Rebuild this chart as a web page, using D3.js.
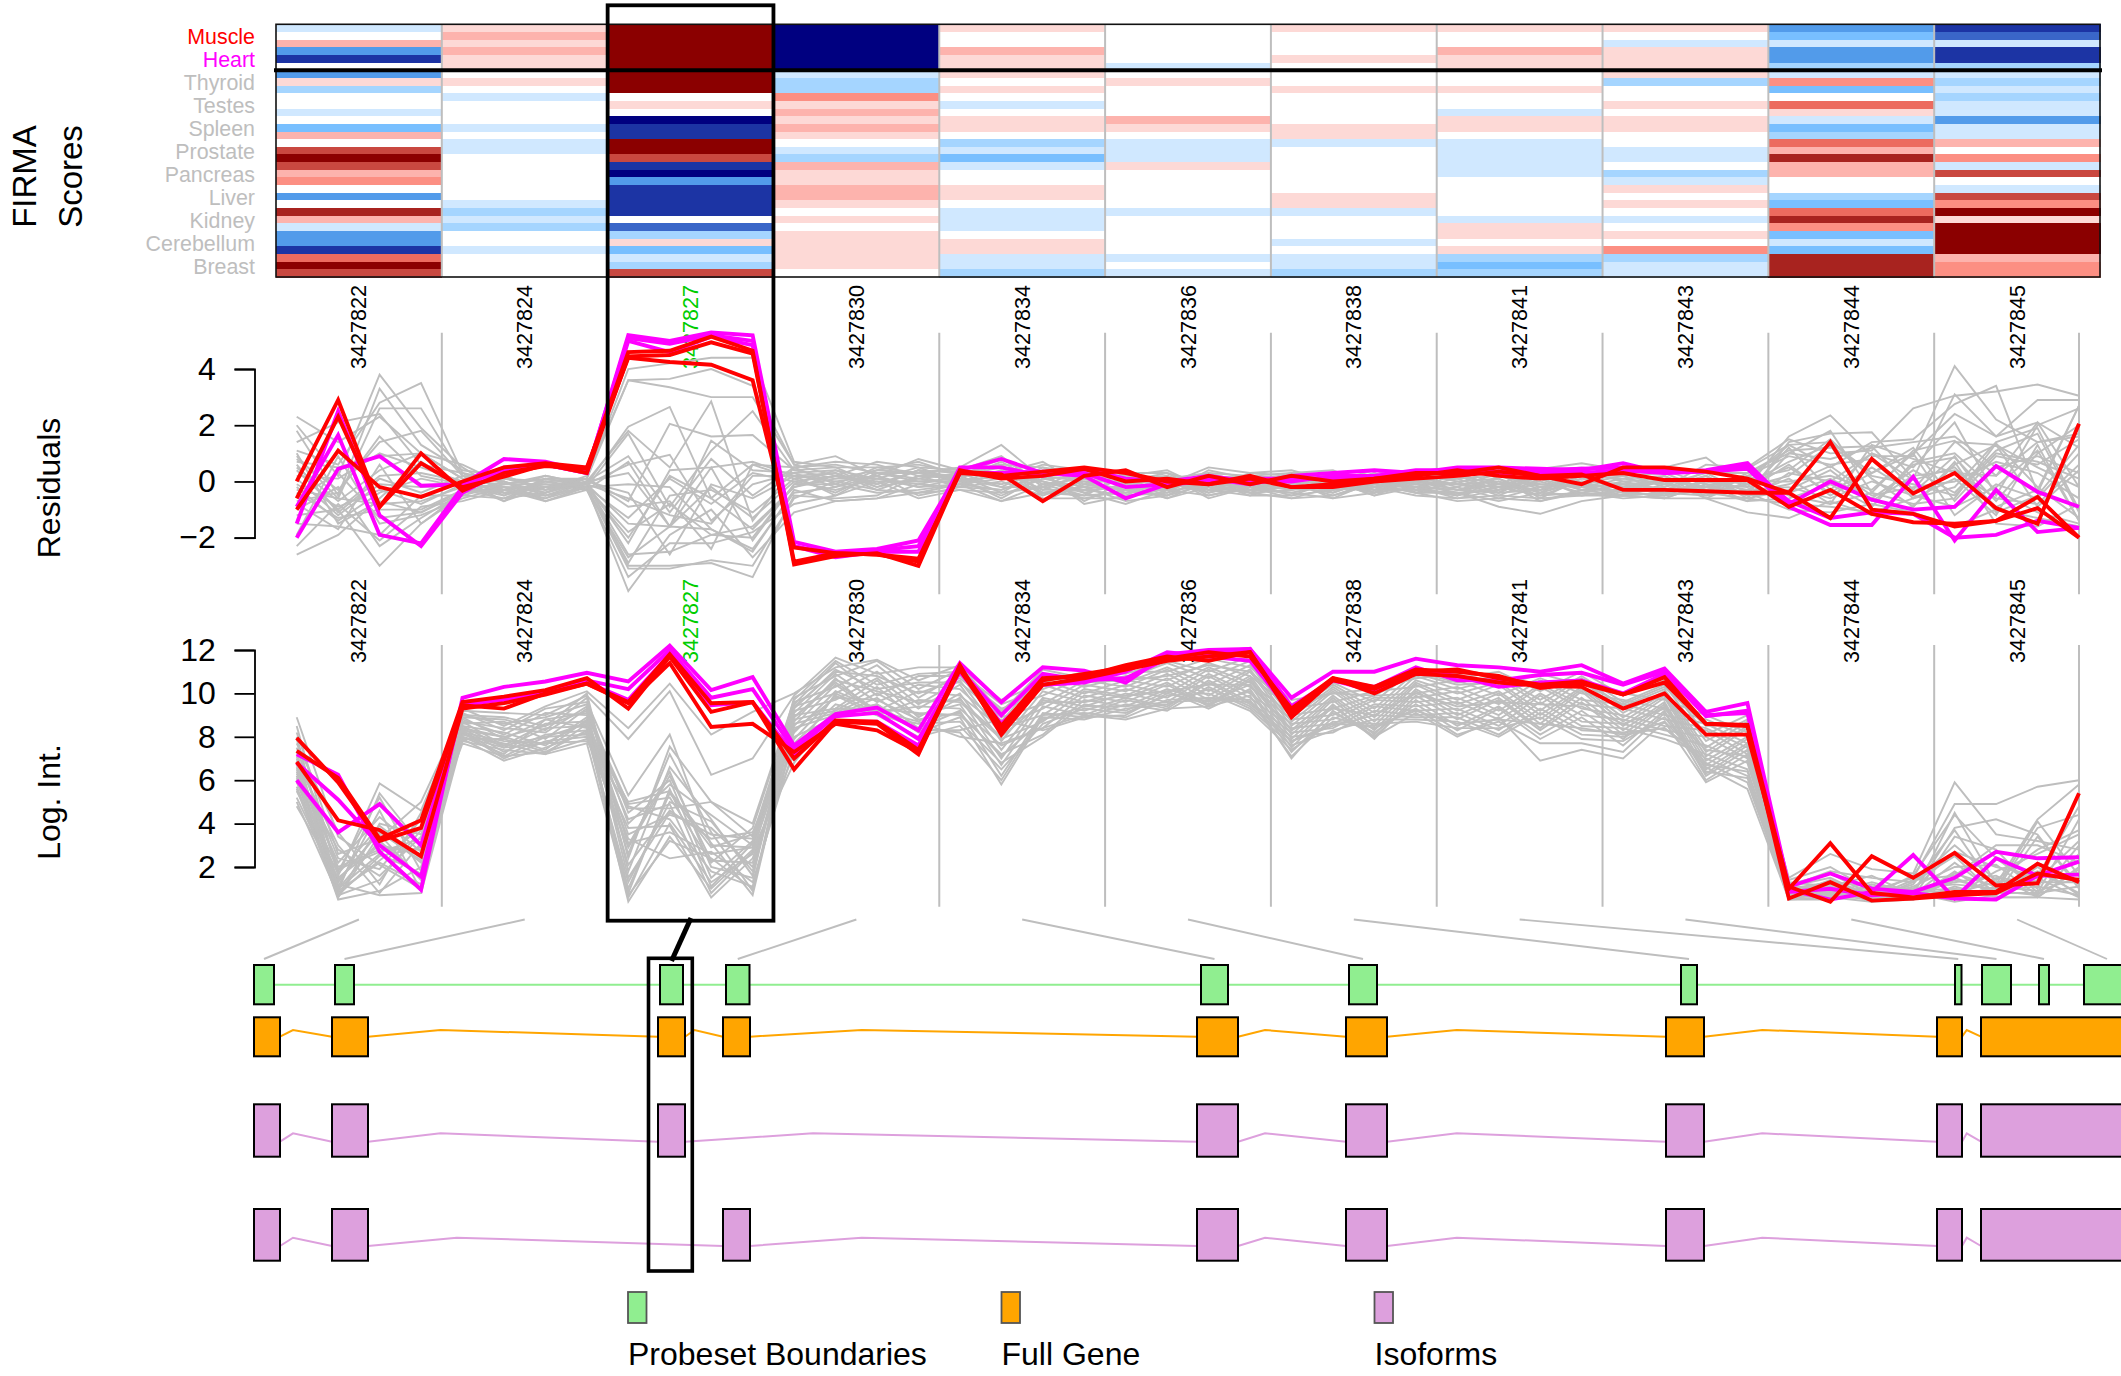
<!DOCTYPE html>
<html><head><meta charset="utf-8">
<style>html,body{margin:0;padding:0;background:#fff}svg{display:block}text{font-family:"Liberation Sans",Arial,sans-serif}</style>
<script src="https://cdn.jsdelivr.net/npm/d3@7/dist/d3.min.js"></script>
</head><body><svg id="c" width="2121" height="1376"></svg>
<script>
const probesets=["3427822","3427824","3427827","3427830","3427834","3427836","3427838","3427841","3427843","3427844","3427845"];
const tissues=["Muscle","Heart","Thyroid","Testes","Spleen","Prostate","Pancreas","Liver","Kidney","Cerebellum","Breast"];
const heatLevels=[-7,-6,-5,-4,-3,-2,-1,0,1,2,3,4,5,6,7];
const heatColors=["#000080","#1c34a4","#3a66c8","#529bea","#78bfff","#a5d5ff","#d0e8ff","#ffffff","#fdd9d6","#fdb3ad","#fc8f83","#ec6b5f","#c94840","#a8231f","#8b0000"];
// FIRMA score bins: one list per probeset, top row to bottom row
const h22=[-1,0,2,-4,-6,0,-4,1,-2,0,0,-1,0,-3,2,0,5,7,5,2,3,0,-4,0,6,2,-1,-4,-4,-6,4,7,5];
const h24=[1,2,1,2,1,1,0,1,0,-1,0,0,0,-1,0,-1,-1,0,0,0,0,0,0,-1,-2,-1,-2,0,0,-1,0,0,0];
const h27=[7,7,7,7,7,7,7,7,7,0,1,0,-7,-6,-6,7,7,5,-6,-7,-4,-6,-6,-6,-6,0,-5,-2,1,-3,-1,-2,5];
const h30=[-7,-7,-7,-7,-7,-7,-1,-2,-2,3,1,2,1,2,1,0,-1,-2,2,1,1,2,2,1,0,1,0,1,1,1,1,1,0];
const h34=[1,0,0,2,1,1,1,0,1,0,-1,0,1,1,0,-2,-1,-3,-1,0,0,1,1,0,-1,-1,-1,0,1,1,-1,-1,-2];
const h36=[0,0,0,0,0,-1,0,1,0,0,0,0,2,1,0,-1,-1,-1,1,0,0,0,0,0,-1,0,0,0,0,0,-1,0,-1];
const h38=[1,0,0,0,1,0,0,0,1,0,0,0,0,1,1,-1,0,0,0,0,0,0,1,1,-1,0,0,0,-1,0,-1,-1,-2];
const h41=[1,0,0,2,1,1,0,0,1,0,0,-1,1,1,0,-1,-1,-1,-1,-1,0,0,0,0,0,-1,1,1,0,1,-2,-3,-2];
const h43=[1,0,-1,1,1,1,1,-2,0,0,1,0,1,1,0,0,-1,-1,0,-2,-1,1,0,1,0,-1,0,1,0,3,-2,-1,-1];
const h44=[-4,-3,-1,-4,-4,-2,-1,3,-3,0,4,1,-1,-3,-2,4,2,6,2,2,0,0,-2,-3,4,6,3,-3,-1,-3,6,6,6];
const h45=[-6,-5,-1,-6,-6,-2,-1,-2,-1,-2,-1,-1,-4,-1,-1,2,0,3,-1,5,0,-1,5,3,7,1,7,7,7,7,2,3,3];
const heatColumns=[h22,h24,h27,h30,h34,h36,h38,h41,h43,h44,h45];

// Residuals: highlighted samples (44 probes)
const residMuscle1=[0,2.9,-0.9,1.0, -0.33,0.3,0.55,0.45, 4.6,4.65,5.15,4.65, -2.95,-2.65,-2.55,-3.0, 0.35,0.25,-0.7,0.2, 0.4,-0.2,0.2,-0.1, 0.2,0.0,0.1,0.3, 0.3,0.5,0.2,-0.1, 0.5,0.5,0.35,0.1, -0.4,1.4,-1.0,-1.15, -1.6,-1.4,-0.55,-2.0];
const residMuscle2=[-0.6,2.3,-0.9,0.65, -0.2,0.17,0.6,0.3, 4.45,4.5,4.95,4.55, -2.85,-2.55,-2.6,-2.75, 0.3,0.2,0.35,0.5, 0.3,0,-0.1,0.1, -0.2,-0.1,0.1,0.2, 0.4,0.2,0.1,0.2, 0.3,0.05,0.05,0.05, -0.9,-0.3,-1.15,-1.45, -1.5,-1.4,-0.95,-2.0];
const residMuscle3=[-1.0,1.1,-0.2,-0.55, 0,0.5,0.65,0.5, 4.4,4.25,4.15,3.6, -2.35,-2.55,-2.6,-2.85, 0.4,0.1,0.2,0.45, 0,0.1,-0.1,0.2, -0.2,-0.2,0,0.1, 0.2,0.35,0.2,0.25, -0.3,-0.3,-0.35,-0.4, -0.4,-1.3,0.8,-0.43, 0.3,-0.95,-1.5,2.05];
const residHeart1=[-1.5,2.5,-1.2,-2.3, -0.4,0.4,0.6,0.3, 5.2,5.0,5.3,5.2, -2.15,-2.5,-2.4,-2.1, 0.4,0.8,0.3,0.2, -0.6,-0.1,0.1,-0.1, 0.2,0.3,0.4,0.3, 0.5,0.5,0.45,0.4, 0.65,0.3,0.4,0.65, -0.8,0,-0.65,-1.0, -0.9,0.55,-0.37,-0.9];
const residHeart2=[-2.0,0.45,0.9,-0.15, -0.1,0.8,0.7,0.35, 5.1,4.9,5.2,5.0, -2.3,-2.6,-2.45,-2.3, 0.5,0.5,0.2,0.45, 0.1,0,0.2,0, 0,0.2,0.2,0.4, 0.4,0.35,0.4,0.45, 0.5,0.4,0.35,0.45, -0.9,-1.55,-1.55,0.17, -2.1,-0.3,-1.8,-1.65];
const residHeart3=[-0.9,1.65,-1.9,-2.2, -0.2,0.5,0.6,0.3, 5.0,4.6,5.15,4.85, -2.3,-2.7,-2.5,-2.5, 0.3,0.3,0.35,0.3, -0.2,-0.1,0,0.1, 0.1,0.1,0.2,0.3, 0.3,0.3,0.3,0.3, 0.4,0.3,0.35,0.55, -0.7,-1.3,-1.1,-1.15, -2.0,-1.9,-1.4,-1.65];
// Log intensity: highlighted samples
const intMuscle1=[7.95,5.9,3.2,3.8, 9.45,9.3,10.0,10.45, 9.6,11.8,9.55,9.6, 6.5,8.7,8.6,7.2, 11.3,8.1,10.4,10.7, 11.1,11.5,11.7,11.9, 8.9,10.6,10.2,11.0, 11.1,10.7,10.4,10.55, 9.95,10.75,8.6,8.55, 1.0,3.1,0.8,0.6, 0.85,0.85,2.15,1.3];
const intMuscle2=[7.35,6.1,3.3,4.15, 9.6,9.85,10.15,10.7, 9.3,11.7,9.15,9.6, 7.0,8.75,8.7,7.4, 11.2,8.5,10.7,10.8, 11.3,11.7,11.5,11.9, 9.1,10.7,10.3,11.1, 11,10.8,10.25,10.45, 9.95,10.5,8.6,8.5, 0.55,1.3,0.45,0.55, 0.7,0.8,1.7,1.4];
const intMuscle3=[6.85,4.15,3.7,2.5, 9.3,9.55,9.95,10.45, 9.55,11.4,8.45,8.6, 7.3,8.6,8.3,7.3, 11.1,8.3,10.6,10.9, 11.2,11.6,11.9,11.7, 9.3,10.7,10.0,10.9, 10.8,10.5,10.35,10.3, 9.3,10.0,8.1,8.1, 1.1,0.4,2.5,1.5, 2.65,1.15,1.25,5.4];
const intHeart1=[7.2,6.25,2.7,0.95, 9.8,10.3,10.55,10.95, 10.55,12.2,10.15,10.75, 7.6,9.05,9.35,8.3, 11.4,9.6,11.2,11.05, 10.5,11.8,12.0,12.05, 9.8,11.0,11.0,11.6, 11.3,11.2,11.0,11.3, 10.45,11.15,9.15,9.55, 1.1,1.7,1.0,0.85, 1.5,2.7,2.4,2.45];
const intHeart2=[6.0,3.6,4.9,3.0, 9.4,9.8,10.1,10.6, 10.2,12.0,9.8,10.2, 7.4,8.95,9.1,7.9, 11.1,9.0,10.9,10.6, 10.7,11.6,11.85,12.05, 9.4,10.6,10.3,11.2, 10.6,10.6,10.85,10.95, 10.4,11.0,8.95,9.2, 0.95,0.5,0.85,2.55, 0.55,2.4,1.6,2.25];
const intHeart3=[6.8,5.1,3.0,1.55, 9.5,9.7,10.0,10.5, 9.7,11.8,9.45,9.6, 7.2,8.7,8.7,7.6, 11.0,8.6,10.4,10.5, 11.0,11.9,11.7,11.5, 9.1,10.6,10.1,11.1, 10.8,10.3,10.5,10.6, 10,10.9,9,9.1, 0.85,1.0,0.7,0.8, 0.55,0.5,1.6,1.65];

// Residuals: other samples, one list per probeset
const r22=[[2.3,1.4,2.3,1.0],[2.0,0.2,3.8,1.9],[1.8,-0.5,3.3,1.3],[1.4,2.1,2.4,0.6],[1.1,0.6,2.8,3.5],[0.9,-0.6,2.6,2.6],[0.8,-0.3,1.4,1.8],[0.7,0.5,0.9,1.0],[0.5,-0.7,0.4,1.0],[0.4,-1.0,0.2,0.3],[0.2,0.1,1.0,0.5],[0.1,-1.2,-0.1,-0.2],[-0.1,-0.9,-0.3,-0.8],[-0.2,-1.4,-0.4,0.1],[-0.3,-0.6,-0.8,-0.7],[-0.4,-1.3,-1.0,-1.0],[-0.6,0.3,-1.3,-1.1],[-0.8,-1.7,0.6,-1.5],[-1.0,-0.2,-2.3,-1.3],[-1.2,-1.0,-3.0,-1.5],[-1.5,-1.6,-1.9,-0.5],[-1.9,0.9,-1.5,-1.2],[-2.3,-0.8,-2.1,-0.9],[-2.6,-1.9,-0.6,0.7],[0.6,-1.1,0.1,-0.4],[-0.7,-0.4,1.6,0.2],[1.0,-1.5,-0.7,-1.1]];
const r24=[[0.6,-0.1,0.1,0.1],[0.5,-0.4,-0.2,0.1],[0.4,0.2,-0.3,0.2],[0.3,-0.3,0.2,-0.1],[0.3,0.0,-0.5,0.0],[0.2,-0.5,0.0,0.1],[0.2,0.1,-0.2,-0.2],[0.1,-0.7,0.1,-0.1],[0.1,0.0,-0.4,0.0],[0.0,-0.1,0.2,-0.1],[0.0,-0.4,-0.6,0.0],[-0.1,0.1,0.0,-0.2],[-0.1,-0.2,-0.4,0.1],[-0.2,-0.5,0.1,-0.2],[-0.2,0.2,-0.3,-0.1],[-0.3,-0.3,-0.7,-0.2],[-0.3,-0.6,0.0,-0.3],[-0.4,-0.2,-0.2,-0.1],[-0.4,0.0,-0.7,-0.3],[-0.5,-0.1,-0.1,-0.2],[-0.5,-0.6,-0.4,0.0],[-0.6,-0.2,-0.6,-0.2],[-0.7,-0.3,-0.1,-0.3],[-0.2,-0.4,-0.5,-0.2],[0.2,-0.2,-0.3,0.0],[-0.1,-0.7,-0.2,-0.1],[-0.4,-0.3,-0.5,-0.2]];
const r27=[[4.0,4.2,4.4,4.4],[3.6,3.65,4.0,3.4],[3.6,3.35,3.0,3.0],[1.95,2.65,-0.6,0.6],[1.8,0.5,2.85,-1.4],[-0.7,2.05,1.6,1.65],[1.7,-0.9,1.1,2.5],[0.6,0.95,-1.4,-0.1],[0.3,-1.6,1.45,0.4],[-2.2,0.4,0.5,0.7],[-0.4,-2.6,-0.1,-0.6],[-2.9,-0.5,-0.3,-1.1],[-0.9,-0.7,-2.4,0.6],[-1.3,0.1,-0.8,0.3],[-1.5,-1.6,-0.2,-1.3],[-1.8,-0.8,-1.9,-2.0],[0.7,-1.6,0.5,-2.1],[-2.6,-2.5,-1.9,-1.6],[-2.7,-1.6,-1.7,-2.5],[-0.1,-0.2,-1.7,-2.4],[-3.0,-3.0,-2.9,-3.4],[-3.1,-3.1,-2.8,-3.0],[-3.4,-2.2,-2.2,-1.8],[-3.9,-1.9,-1.0,-2.7],[0.9,-1.1,0.8,-0.5],[-0.6,-1.2,-1.5,0.2],[-2.0,0.2,-0.6,-1.7]];
const r30=[[0.7,0.5,0.5,0.3],[0.6,0.9,0.2,0.8],[0.6,0.2,0.7,0.5],[0.5,0.6,0.3,0.1],[0.5,-0.1,0.5,0.6],[0.4,0.5,-0.1,0.4],[0.4,0.1,0.4,0.7],[0.3,0.4,0.1,-0.1],[0.3,-0.2,0.4,0.3],[0.2,0.3,-0.2,0.4],[0.2,0.0,0.2,-0.2],[0.1,0.3,-0.3,0.2],[0.1,-0.4,0.3,0.3],[0.0,0.2,0.0,0.0],[0.0,-0.3,0.1,0.5],[-0.1,0.4,-0.2,0.1],[-0.1,-0.1,-0.4,-0.3],[-0.2,0.1,0.1,-0.2],[-0.3,-0.7,-0.6,-0.1],[-0.4,-0.2,0.2,-0.5],[-0.5,-0.6,-0.5,0.2],[-0.6,0.0,-0.3,-0.4],[-0.8,-0.5,0.0,-0.6],[-1.1,-0.7,-0.6,-0.4],[0.5,0.7,0.6,0.2],[0.2,-0.5,0.3,0.0],[-0.2,0.2,-0.1,0.4]];
const r34=[[0.5,1.3,0.1,0.2],[0.4,0.3,0.7,-0.2],[0.4,0.9,-0.2,0.5],[0.3,-0.2,0.5,0.3],[0.3,0.6,-0.4,-0.5],[0.3,0.1,0.6,0.4],[0.2,0.8,0.0,-0.3],[0.2,-0.4,0.4,0.2],[0.2,0.5,-0.5,0.0],[0.1,-0.1,0.3,-0.7],[0.1,0.7,-0.1,0.1],[0.1,-0.6,0.2,-0.4],[0.0,0.4,-0.3,0.3],[0.0,-0.5,0.1,-0.2],[0.0,0.2,-0.6,-0.6],[-0.1,-0.3,0.2,0.0],[-0.1,0.3,-0.7,-0.1],[-0.1,-0.7,-0.1,-0.5],[-0.2,0.0,-0.5,0.1],[-0.2,-0.3,0.3,-0.8],[-0.2,0.4,-0.3,-0.3],[-0.3,-0.4,-0.2,-0.6],[-0.3,-0.7,-0.4,-0.2],[-0.1,0.1,0.0,-0.4],[0.2,0.6,0.5,-0.1],[0.1,-0.2,-0.2,0.2],[0.0,0.2,-0.4,-0.3]];
const r36=[[0.4,-0.1,0.5,0.3],[0.3,0.3,-0.1,-0.2],[0.3,-0.3,0.3,0.2],[0.2,0.4,-0.3,0.3],[0.2,0.0,0.2,-0.3],[0.1,-0.4,0.4,0.1],[0.1,0.2,-0.2,-0.4],[0.1,-0.2,0.1,0.2],[0.0,0.3,-0.4,-0.1],[0.0,-0.5,0.2,0.1],[-0.1,0.1,-0.3,-0.5],[-0.1,-0.3,0.1,0.0],[-0.2,0.2,-0.5,-0.2],[-0.2,-0.6,0.0,0.1],[-0.3,0.1,-0.3,-0.3],[-0.3,-0.2,-0.1,-0.1],[-0.3,-0.5,0.2,-0.4],[-0.4,0.0,-0.4,0.0],[-0.4,-0.3,-0.2,-0.3],[-0.5,0.2,-0.6,-0.2],[-0.5,-0.4,0.0,-0.5],[-0.6,-0.1,-0.3,-0.1],[-0.7,-0.5,-0.1,-0.4],[-0.8,-0.3,-0.5,-0.2],[0.2,0.1,0.3,-0.1],[-0.1,-0.6,-0.2,0.2],[-0.2,-0.1,0.1,-0.3]];
const r38=[[0.4,0.0,0.4,-0.1],[0.3,0.4,-0.2,0.3],[0.3,-0.3,0.3,-0.3],[0.2,0.3,-0.1,0.4],[0.2,-0.2,0.2,0.0],[0.2,0.2,-0.4,0.2],[0.1,-0.4,0.1,-0.2],[0.1,0.1,-0.3,0.3],[0.0,-0.1,0.3,-0.4],[0.0,0.3,-0.2,0.1],[-0.1,-0.5,0.0,-0.1],[-0.1,0.1,-0.4,0.2],[-0.1,-0.3,0.2,-0.3],[-0.2,0.2,-0.3,0.0],[-0.2,-0.4,0.1,-0.2],[-0.3,0.0,-0.5,0.1],[-0.3,-0.2,-0.1,-0.4],[-0.3,0.1,-0.3,-0.1],[-0.4,-0.6,0.0,-0.3],[-0.4,-0.1,-0.4,0.1],[-0.5,-0.3,-0.2,-0.5],[-0.5,0.0,-0.5,-0.2],[-0.6,-0.5,-0.1,-0.4],[-0.6,-0.2,-0.3,-0.3],[0.3,0.1,0.1,0.2],[-0.2,-0.3,-0.2,0.0],[0.0,-0.6,-0.4,-0.2]];
const r41=[[0.4,-0.1,0.45,0.65],[0.3,0.4,-0.2,0.1],[0.3,-0.2,0.35,0.5],[0.2,0.3,-0.3,-0.1],[0.2,-0.3,0.2,0.3],[0.1,0.2,-0.1,-0.2],[0.1,-0.4,0.3,0.2],[0.0,0.1,-0.4,0.4],[0.0,-0.5,0.1,-0.3],[-0.1,0.0,-0.5,0.0],[-0.1,-0.2,0.0,-0.4],[-0.2,0.3,-0.6,0.1],[-0.2,-0.6,-0.2,-0.1],[-0.3,-0.1,0.1,-0.5],[-0.3,-0.4,-0.3,0.2],[-0.3,0.1,-0.7,-0.3],[-0.4,-0.3,-0.1,-0.2],[-0.4,-0.7,-0.4,0.0],[-0.5,-0.2,-0.5,-0.4],[-0.5,0.2,-0.2,-0.1],[-0.6,-0.5,-0.6,-0.5],[-0.6,-0.3,0.2,-0.3],[-0.7,-0.6,-0.7,-0.4],[-0.4,-0.9,-1.15,-0.7],[0.2,-0.1,-0.3,0.2],[-0.1,-0.4,0.2,-0.2],[-0.5,0.0,-0.4,-0.5]];
const r43=[[0.4,0.5,0.85,-0.2],[0.3,-0.2,0.6,0.5],[0.3,0.4,-0.1,-0.5],[0.2,-0.4,0.4,0.45],[0.2,0.3,-0.3,0.1],[0.1,-0.1,0.3,-0.4],[0.1,0.2,-0.4,0.3],[0.0,-0.3,0.2,-0.6],[0.0,0.1,-0.2,0.2],[-0.1,-0.5,0.1,-0.1],[-0.1,0.0,-0.5,-0.3],[-0.2,-0.4,0.0,0.1],[-0.2,0.1,-0.3,-0.7],[-0.3,-0.6,-0.1,-0.2],[-0.3,-0.2,0.2,-0.5],[-0.3,0.0,-0.6,0.0],[-0.4,-0.3,-0.2,-0.4],[-0.4,-0.5,0.0,-0.3],[-0.5,-0.1,-0.4,-0.6],[-0.5,-0.4,-0.5,0.2],[-0.5,-0.6,-0.1,-0.7],[-0.5,0.2,-0.6,-0.6],[-0.6,-0.5,-0.3,-0.4],[-0.5,-0.6,-0.6,-1.1],[0.2,0.3,0.3,0.3],[-0.1,-0.3,-0.4,-0.1],[-0.3,0.1,0.1,-0.5]];
const r44=[[1.6,2.35,0.9,0.9],[1.5,1.0,1.1,2.6],[1.4,1.7,1.75,0.1],[1.3,0.5,1.4,1.5],[1.3,1.4,0.3,1.0],[1.2,-0.3,1.0,0.5],[1.1,1.2,1.25,-0.3],[1.0,1.8,-0.4,1.1],[0.9,0.6,0.8,-0.6],[0.7,1.3,-0.9,0.6],[0.6,-0.5,0.3,1.2],[0.4,1.5,0.1,-0.9],[0.3,0.0,1.0,0.05],[0.2,1.3,0.2,-0.1],[0.1,-0.8,1.3,0.8],[0.0,0.2,-0.3,1.0],[-0.1,0.55,-0.5,-0.2],[-0.2,-0.6,0.0,-0.5],[-0.3,0.4,-0.7,0.2],[-0.5,-0.8,-0.4,-0.8],[-0.6,-0.1,-0.9,0.7],[-0.8,-0.9,-1.1,-0.6],[-1.0,-1.1,-0.8,-1.1],[-1.3,-0.7,-1.2,-0.9],[1.0,0.8,1.2,1.4],[0.5,-0.4,0.5,-0.4],[-0.4,0.1,-0.6,0.4]];
const r45=[[4.1,2.2,1.4,1.6],[3.05,3.2,3.45,3.05],[3.1,1.6,2.9,2.9],[2.75,3.4,-0.4,2.7],[2.4,1.6,2.1,1.2],[2.1,-0.5,2.0,2.6],[1.4,1.3,0.5,-0.2],[1.45,0.2,1.4,1.7],[-0.2,1.4,1.9,-1.0],[0.85,-0.7,1.0,2.0],[-0.7,0.9,0.6,1.5],[0.6,1.3,-0.9,0.4],[0.5,-0.9,-0.3,2.7],[-0.5,1.0,0.7,0.1],[0.3,0.2,2.1,-0.2],[-1.2,-0.1,-0.6,1.0],[0.0,0.7,0.3,-0.6],[-0.9,-0.2,1.1,-1.4],[0.4,-0.6,-0.8,0.6],[-0.6,1.35,-0.2,-1.3],[1.0,-0.3,-1.1,-1.5],[0.1,-1.2,1.3,-1.4],[-1.6,-1.0,-1.3,-1.6],[0.7,-1.5,-1.6,-0.8],[1.6,0.5,0.9,0.3],[0.9,-1.1,-0.5,1.3],[-0.4,1.1,1.7,-1.1]];
// Log intensity: other samples, one list per probeset
const i22=[[8.9,3.4,2.1,1.0],[8.5,1.6,5.85,4.6],[8.2,2.6,3.3,5.0],[8.0,0.9,5.4,3.0],[7.7,3.6,1.2,4.5],[7.5,1.8,5.2,1.8],[7.3,0.6,4.0,3.5],[7.1,2.4,1.9,4.2],[7.0,1.3,3.7,2.2],[6.9,3.0,0.8,3.1],[6.8,1.1,4.6,0.9],[6.7,2.0,2.8,2.8],[6.6,0.8,2.3,3.8],[6.5,2.2,4.3,2.7],[6.4,1.0,3.2,1.5],[6.2,0.7,1.4,3.7],[6.1,1.4,3.6,2.3],[6.0,0.5,0.9,2.0],[5.9,1.9,2.7,3.3],[5.7,0.9,2.2,1.2],[5.5,1.7,3.9,2.4],[5.2,1.2,0.7,0.8],[5.0,0.7,2.5,2.9],[4.8,1.5,3.0,2.6],[7.9,1.0,2.6,1.7],[6.3,2.8,1.6,3.4],[5.6,0.6,3.5,1.4]];
const i24=[[9.3,8.5,9.4,10.1],[9.2,9.1,9.0,9.9],[9.1,8.3,9.3,9.6],[9.0,8.9,8.5,10.0],[8.9,7.9,8.8,9.1],[8.9,8.8,8.3,9.8],[8.8,8.1,9.1,9.0],[8.7,8.4,8.2,9.4],[8.7,7.6,8.6,8.7],[8.6,8.7,7.9,9.3],[8.5,7.5,8.4,8.5],[8.5,8.2,7.6,8.9],[8.4,7.3,8.1,8.3],[8.3,8.0,7.4,8.8],[8.3,7.1,8.0,8.1],[8.2,7.8,7.7,8.7],[8.2,7.0,7.8,8.0],[8.1,7.7,7.2,8.6],[8.0,7.5,7.7,7.8],[8.0,7.2,8.8,8.4],[7.9,7.9,7.3,7.9],[7.9,6.9,7.5,8.2],[7.8,7.4,7.2,7.7],[7.7,7.1,7.3,8.3],[9.0,8.6,8.9,9.5],[8.4,8.0,8.5,9.2],[8.1,7.6,8.0,8.6]];
const i27=[[8.4,10.45,8.1,9.15],[7.9,10.1,6.25,7.0],[5.3,8.1,3.0,2.9],[2.4,7.55,5.0,4.0],[4.9,5.2,2.2,3.8],[1.8,6.6,4.2,1.6],[4.7,4.7,5.0,3.4],[4.5,6.0,1.5,3.2],[2.6,7.2,3.6,0.9],[4.0,5.8,4.4,3.0],[0.8,5.6,1.1,3.1],[3.5,4.4,3.8,2.0],[5.0,5.5,3.1,0.7],[3.1,3.6,2.6,2.9],[1.3,5.0,4.1,1.8],[4.2,4.9,0.8,2.7],[2.9,6.2,2.3,2.2],[2.1,4.6,3.3,3.6],[4.8,4.2,1.8,1.1],[1.0,5.4,2.9,3.5],[3.8,3.9,0.6,2.4],[3.3,2.4,2.7,1.3],[0.6,4.0,1.3,2.6],[0.4,3.4,1.0,2.8],[3.0,6.4,2.0,1.5],[1.5,4.5,3.5,3.3],[0.7,3.2,2.4,1.0]];
const i30=[[10.0,11.2,11.55,10.6],[9.9,11.65,10.9,11.2],[9.8,10.8,11.5,10.2],[9.7,11.5,10.4,10.9],[9.6,10.3,11.3,9.8],[9.5,11.4,9.9,10.8],[9.4,10.0,11.0,9.5],[9.3,11.1,10.2,10.5],[9.2,9.7,10.7,9.3],[9.1,10.9,9.6,10.4],[9.0,9.3,10.6,8.9],[8.9,10.5,9.2,10.1],[8.8,9.2,10.3,8.7],[8.7,10.7,9.0,9.7],[8.6,9.1,10.0,9.0],[8.5,10.4,9.1,9.4],[8.4,9.0,9.8,8.4],[8.2,10.1,9.3,9.1],[8.0,8.9,9.5,8.2],[7.9,9.9,9.0,8.6],[7.7,9.5,9.0,8.0],[7.5,9.1,9.5,8.3],[7.2,10.0,9.1,8.4],[6.8,9.3,9.2,8.7],[9.4,11.0,10.8,10.0],[8.9,10.6,10.1,9.6],[8.3,9.8,9.7,8.8]];
const i34=[[11.3,9.1,11.1,10.7],[11.2,9.7,10.5,11.0],[11.1,8.7,10.9,10.3],[11.0,9.5,10.2,10.9],[10.9,8.3,10.6,10.0],[10.8,9.3,9.9,10.8],[10.6,8.1,10.4,9.8],[10.5,8.9,9.5,10.6],[10.4,7.8,10.1,9.6],[10.2,8.5,9.3,10.4],[10.0,7.4,9.8,9.4],[9.9,8.4,9.0,10.2],[9.8,7.0,9.7,9.2],[9.6,7.9,8.7,10.1],[9.5,6.7,9.4,9.0],[9.3,7.6,8.4,9.9],[9.2,6.2,9.1,8.9],[9.0,7.2,8.1,9.7],[8.9,5.8,8.9,8.8],[8.7,6.8,8.0,9.5],[8.5,6.5,8.6,9.3],[8.3,8.8,8.3,8.9],[8.2,6.0,9.0,9.1],[8.0,7.7,8.4,9.0],[10.7,9.2,10.8,10.5],[9.7,8.0,9.6,9.6],[9.1,7.1,8.8,9.4]];
const i36=[[11.0,11.0,11.6,11.2],[10.9,11.5,11.0,11.7],[10.8,10.6,11.4,10.8],[10.7,11.4,10.7,11.5],[10.6,10.3,11.2,10.5],[10.5,11.2,10.4,11.3],[10.4,10.0,11.1,10.3],[10.3,11.1,10.1,11.1],[10.2,9.8,10.9,10.0],[10.1,10.9,9.9,11.0],[10.0,9.6,10.8,9.8],[9.9,10.7,9.7,10.8],[9.8,9.4,10.6,9.6],[9.8,10.5,9.5,10.7],[9.7,9.3,10.5,9.5],[9.6,10.4,9.4,10.6],[9.5,9.2,10.3,9.4],[9.4,10.2,9.6,10.4],[9.3,9.5,10.2,9.3],[9.2,10.1,9.3,10.2],[9.1,9.9,10.0,9.2],[9.0,10.0,9.5,10.1],[8.9,9.7,9.8,9.7],[8.8,9.3,9.4,9.9],[10.6,10.8,11.3,11.0],[9.9,10.1,10.4,10.4],[9.4,9.6,9.7,9.6]];
const i38=[[9.7,10.0,10.2,10.7],[9.5,10.5,9.6,11.2],[9.3,9.6,10.1,10.3],[9.2,10.4,9.3,11.0],[9.0,9.3,9.9,10.0],[8.9,10.3,9.1,10.8],[8.8,9.0,9.8,9.8],[8.7,10.2,8.9,10.6],[8.6,8.8,9.7,9.6],[8.5,10.1,8.7,10.5],[8.4,8.6,9.5,9.4],[8.3,9.9,8.5,10.4],[8.2,8.4,9.4,9.2],[8.1,9.8,8.3,10.2],[8.0,8.2,9.2,9.0],[7.9,9.7,8.1,10.1],[7.8,8.5,9.0,8.9],[7.7,9.5,7.9,9.9],[7.6,8.3,8.8,8.8],[7.5,9.4,8.0,9.7],[7.4,8.7,8.6,8.7],[7.3,9.1,8.2,9.5],[7.1,8.9,8.4,9.3],[7.0,9.2,8.0,9.1],[9.4,10.0,9.9,10.9],[8.3,9.3,9.0,10.0],[7.8,8.6,8.5,9.2]];
const i41=[[10.9,10.3,10.9,10.4],[10.7,11.0,10.1,11.0],[10.6,9.9,10.7,10.0],[10.5,10.8,9.7,10.8],[10.3,9.5,10.6,9.7],[10.2,10.7,9.5,10.7],[10.1,9.2,10.4,9.5],[10.0,10.5,9.2,10.6],[9.8,9.0,10.3,9.3],[9.7,10.4,9.0,10.3],[9.6,8.8,10.0,9.0],[9.5,10.1,8.8,10.2],[9.3,8.5,9.9,8.7],[9.2,10.0,8.6,10.1],[9.1,8.3,9.6,8.5],[9.0,9.8,8.4,9.8],[8.9,8.1,9.3,8.3],[8.8,9.7,8.3,9.6],[8.7,8.0,9.1,8.1],[8.5,9.4,8.1,9.2],[8.4,8.4,8.9,7.9],[8.3,9.3,7.9,8.9],[8.1,8.7,7.7,7.7],[8.0,8.9,6.9,7.4],[10.4,10.5,10.4,10.5],[9.4,9.6,9.5,9.4],[8.6,8.8,8.6,8.4]];
const i43=[[10.0,9.7,9.0,8.2],[9.9,10.6,8.1,9.0],[9.7,9.3,8.8,8.0],[9.6,10.4,7.8,8.8],[9.5,9.0,8.6,7.7],[9.4,10.2,7.5,8.7],[9.3,8.8,8.4,7.5],[9.1,10.1,7.3,8.5],[9.0,8.5,8.3,7.2],[8.9,10.0,7.1,8.4],[8.8,8.3,8.0,7.0],[8.7,9.9,6.9,8.0],[8.6,8.1,7.6,6.8],[8.5,9.8,6.7,7.9],[8.4,7.9,7.2,6.5],[8.3,9.6,6.5,7.7],[8.2,8.4,7.0,6.2],[8.1,9.5,6.3,7.6],[8.0,8.7,6.8,5.9],[7.9,9.4,6.2,7.4],[7.8,8.9,6.6,5.6],[7.6,9.2,6.0,7.2],[7.3,9.1,6.4,6.1],[7.0,8.7,5.9,6.9],[9.5,10.3,8.5,8.6],[8.6,9.3,7.4,7.1],[8.1,8.4,6.7,6.4]];
const i44=[[1.5,2.6,1.9,1.7],[1.4,2.0,0.9,1.5],[1.3,1.1,1.6,0.7],[1.2,1.7,0.7,1.6],[1.2,0.8,1.3,0.8],[1.1,1.5,0.6,1.2],[1.0,0.7,1.1,0.6],[1.0,1.3,0.5,1.3],[0.9,0.6,1.2,0.7],[0.9,1.2,0.5,1.1],[0.8,0.5,1.0,0.6],[0.8,1.1,0.6,1.4],[0.8,0.6,1.0,0.5],[0.7,1.4,0.7,0.9],[0.7,0.7,0.9,0.8],[0.7,0.9,0.7,1.0],[0.6,0.5,0.8,0.6],[0.6,1.0,0.4,0.9],[0.6,0.8,0.8,0.5],[0.6,0.7,0.5,0.7],[0.5,0.9,0.6,0.6],[0.5,0.5,0.7,0.8],[0.5,1.0,0.5,0.5],[0.5,0.6,0.4,0.5],[1.1,1.8,1.5,1.3],[0.9,1.3,1.1,1.0],[0.7,0.8,0.6,0.7]];
const i45=[[5.9,3.5,3.2,2.8],[4.9,4.9,5.7,6.0],[4.5,1.2,4.2,5.8],[4.4,2.4,1.0,5.4],[3.8,4.2,3.5,1.0],[3.7,0.9,3.8,4.4],[3.4,2.8,0.8,4.2],[2.5,0.7,3.4,1.2],[0.7,1.8,2.6,3.5],[2.0,2.1,0.7,3.0],[0.6,1.1,1.8,0.8],[1.6,3.0,3.0,2.2],[1.5,0.8,1.4,3.2],[0.8,1.3,1.5,0.6],[1.3,1.6,0.6,2.0],[1.2,1.0,4.1,1.6],[0.7,1.5,1.3,1.3],[1.0,0.7,2.2,1.2],[0.9,0.9,1.1,0.7],[2.2,0.8,0.8,1.1],[1.4,0.9,0.7,2.6],[0.4,0.7,2.0,0.7],[1.1,0.6,0.6,0.5],[1.8,0.6,0.6,1.9],[3.0,1.4,2.8,3.7],[2.7,2.0,1.6,4.8],[1.7,1.1,0.9,1.5]];
const residGrayCols=[r22,r24,r27,r30,r34,r36,r38,r41,r43,r44,r45];
const intGrayCols=[i22,i24,i27,i30,i34,i36,i38,i41,i43,i44,i45];

// Exon spans along the gene
const probesetExons=[[0,20],[81,100],[406,429],[472,495.5],[947,974],[1095,1123],[1427,1443],[1701,1707.5],[1728,1757],[1785,1795],[1830,1876]];
const fullGeneExons=[[0,26],[78,114],[404,431],[469,496],[943,984],[1092,1133],[1412,1450],[1683,1708],[1727,1880]];
const isoformAExons=[[0,26],[78,114],[404,431],[943,984],[1092,1133],[1412,1450],[1683,1708],[1727,1880]];
const isoformBExons=[[0,26],[78,114],[469,496],[943,984],[1092,1133],[1412,1450],[1683,1708],[1727,1880]];
const selected=2;

const GRAY="#bebebe", svg=d3.select("#c");
const FS=32;
const txt=(x,y,s,o={})=>{const t=svg.append("text").attr("x",x).attr("y",y).text(s)
  .attr("font-size",o.size||FS).attr("fill",o.fill||"#000").attr("text-anchor",o.anchor||"start");
  if(o.rot!==undefined)t.attr("transform",`rotate(${o.rot} ${x} ${y})`);return t;};

// heatmap
const colX=d3.scaleBand().domain(probesets).range([276,2100]);
const rowY=d3.scaleBand().domain(d3.range(33)).range([24.3,277]);
const heat=d3.scaleOrdinal().domain(heatLevels).range(heatColors);
const rowsG=svg.append("g").attr("shape-rendering","crispEdges");
probesets.forEach((p,c)=>rowsG.selectAll(null).data(heatColumns[c]).enter().append("rect")
  .attr("x",colX(p)).attr("width",colX.bandwidth()+.5)
  .attr("y",(d,i)=>rowY(i)).attr("height",rowY.bandwidth()+.5).attr("fill",d=>heat(d)));
svg.append("g").selectAll("line").data(probesets.slice(1)).enter().append("line")
  .attr("x1",d=>colX(d)).attr("x2",d=>colX(d)).attr("y1",24.3).attr("y2",277)
  .attr("stroke",GRAY).attr("stroke-width",2);
svg.append("rect").attr("x",276).attr("y",24.3).attr("width",1824).attr("height",252.7)
  .attr("fill","none").attr("stroke","#111").attr("stroke-width",1.6);
svg.append("line").attr("x1",274).attr("x2",2102).attr("y1",rowY(6)).attr("y2",rowY(6))
  .attr("stroke","#000").attr("stroke-width",4);
tissues.forEach((t,i)=>txt(255,rowY(i*3+1)+rowY.bandwidth()/2+8.5,t,{size:21.4,anchor:"end",
  fill:i==0?"#ff0000":i==1?"#ff00ff":GRAY}));
txt(36,176.5,"FIRMA",{rot:-90,anchor:"middle",size:33});
txt(82,176.5,"Scores",{rot:-90,anchor:"middle",size:33});

// line panels
const probeX=d3.scaleLinear().domain([0,43]).range([296.7,2079]);
const vals=(cols,k)=>cols.flatMap(c=>c[k]);
function panel(yScale,ticks,grayCols,heart,muscle,vTop,vBot,labelBase,title,titleY){
  probesets.forEach((p,i)=>txt(colX(p)+colX.bandwidth()/2+7.5,labelBase,p,{size:21.6,rot:-90,fill:i==selected?"#00cd00":"#000"}));
  const bounds=probesets.slice(1).map(p=>colX(p)).concat([probeX(43)]);
  svg.append("g").selectAll("line").data(bounds).enter().append("line")
    .attr("x1",d=>d).attr("x2",d=>d).attr("y1",vTop).attr("y2",vBot)
    .attr("stroke",GRAY).attr("stroke-width",2);
  const line=d3.line().x((d,i)=>probeX(i)).y(d=>yScale(d)).curve(d3.curveLinear);
  const draw=(arr,col,w)=>svg.append("g").selectAll("path").data(arr).enter().append("path")
    .attr("d",line).attr("fill","none").attr("stroke",col).attr("stroke-width",w).attr("stroke-linejoin","miter");
  draw(d3.range(grayCols[0].length).map(k=>vals(grayCols,k)),GRAY,1.9);
  draw(heart,"#ff00ff",3.9);
  draw(muscle,"#ff0000",3.9);
  const ax=svg.append("g").attr("transform","translate(254.5,0)")
    .call(d3.axisLeft(yScale).tickValues(ticks).tickFormat(d3.format("d")).tickSizeOuter(0).tickSize(20).tickPadding(18.7));
  ax.selectAll("path,line").attr("stroke","#000").attr("stroke-width",1.8);
  ax.selectAll("text").attr("font-size",FS).attr("font-family",'"Liberation Sans"').attr("fill","#000");
  txt(60,titleY,title,{rot:-90,anchor:"middle"});
}
const yRes=d3.scaleLinear().domain([-2,4]).range([537.7,369]);
const yInt=d3.scaleLinear().domain([2,12]).range([867,650]);
panel(yRes,[-2,0,2,4],residGrayCols,[residHeart1,residHeart2,residHeart3],[residMuscle1,residMuscle2,residMuscle3],332.7,594.3,369,"Residuals",488);
panel(yInt,[2,4,6,8,10,12],intGrayCols,[intHeart1,intHeart2,intHeart3],[intMuscle1,intMuscle2,intMuscle3],645,906.7,663,"Log. Int.",802);

// gene models
const geneX=d3.scaleLinear().domain([0,1867]).range([254,2121]);
probesets.forEach((p,i)=>{ if(i==selected)return;
  const e=probesetExons[i];
  svg.append("line").attr("x1",colX(p)+colX.bandwidth()/2).attr("y1",919.5)
    .attr("x2",geneX((e[0]+e[1])/2)).attr("y2",959).attr("stroke",GRAY).attr("stroke-width",1.9);
});
function exons(list,top,bot,fill,base,peak,intron){
  const g=svg.append("g");
  if(intron){
    list.forEach((e,i)=>{ if(i==0)return; const a=list[i-1][1],b=e[0];
      g.append("polyline").attr("points",[[a,base],[a+(b-a)/4,peak],[b,base]].map(d=>[geneX(d[0]),d[1]].join(",")).join(" "))
       .attr("fill","none").attr("stroke",fill).attr("stroke-width",2);});
  } else g.append("line").attr("x1",geneX(0)).attr("x2",2121).attr("y1",base).attr("y2",base).attr("stroke",fill).attr("stroke-width",2);
  g.selectAll("rect").data(list).enter().append("rect")
    .attr("x",d=>geneX(d[0])).attr("width",d=>geneX(d[1])-geneX(d[0]))
    .attr("y",top).attr("height",bot-top).attr("fill",fill).attr("stroke","#000").attr("stroke-width",2);
}
exons(probesetExons,965,1004.3,"#90ee90",984.7,984.7,false);
exons(fullGeneExons,1017.3,1056.3,"#ffa500",1036.7,1030,true);
exons(isoformAExons,1104.3,1156.7,"#dda0dd",1141.7,1133.3,true);
exons(isoformBExons,1209,1260.7,"#dda0dd",1246,1237.7,true);

// highlight boxes
const bx=colX(probesets[selected]);
svg.append("rect").attr("x",bx).attr("y",5.3).attr("width",colX.bandwidth()).attr("height",915.4)
  .attr("fill","none").attr("stroke","#000").attr("stroke-width",3.8);
svg.append("line").attr("x1",691).attr("y1",918).attr("x2",geneX(417.5)).attr("y2",961)
  .attr("stroke","#000").attr("stroke-width",5);
svg.append("rect").attr("x",648.5).attr("y",958.3).attr("width",43.8).attr("height",312.7)
  .attr("fill","none").attr("stroke","#000").attr("stroke-width",3.6);

// legend
const legendNames=["Probeset Boundaries","Full Gene","Isoforms"];
const legendFill=["#90ee90","#ffa500","#dda0dd"];
const legendX=[628,1001.5,1374.5];
legendNames.forEach((n,i)=>{
  svg.append("rect").attr("x",legendX[i]).attr("y",1292).attr("width",18.5).attr("height",31)
    .attr("fill",legendFill[i]).attr("stroke","#555").attr("stroke-width",1.8);
  txt(legendX[i],1365,n);
});
</script></body></html>
